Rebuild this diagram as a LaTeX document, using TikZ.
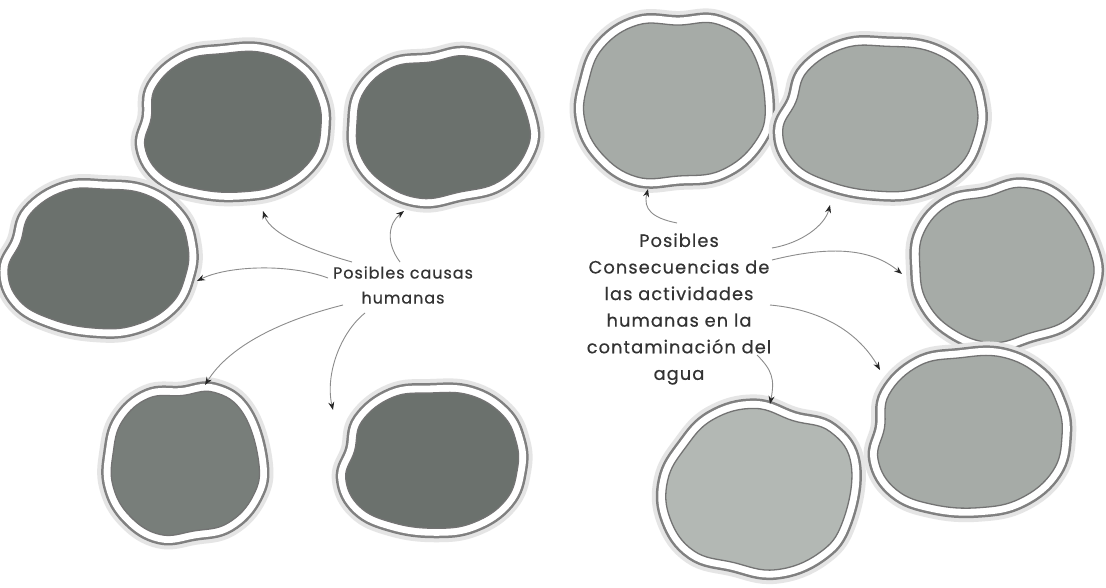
\documentclass[tikz,border=0pt]{standalone}
\usepackage{fontspec}
\setmainfont{Poppins}[FakeBold=0.5, LetterSpace=6]
\usetikzlibrary{arrows.meta}
\definecolor{blobA}{HTML}{6B716D}
\definecolor{blobB}{HTML}{787E7A}
\definecolor{blobC}{HTML}{A6ABA7}
\definecolor{blobD}{HTML}{B3B8B4}
\tikzset{
  conn/.style={draw=black!45, line width=0.9pt, -{Stealth[length=8pt,width=6pt,color=black!85]}},
  halo/.style={draw=black!10, line width=28pt, line join=round},
  rim/.style={draw=black!50, line width=20pt, line join=round},
  ring/.style={draw=white, line width=15pt, line join=round},
  blobfill/.style={draw=black!55, line width=1.3pt},
  lbl/.style={align=center, text=black!80, inner sep=0pt},
}
\def\blobpathone{plot[smooth cycle, tension=0.7] coordinates {(1,0.05) (0.9,0.5) (0.55,0.85) (0.1,0.97) (-0.4,0.93) (-0.8,0.74) (-1,0.35) (-0.93,-0.05) (-0.88,-0.48) (-0.55,-0.85) (-0.12,-0.95) (0.35,-0.96) (0.75,-0.72) (0.95,-0.35)}}
\def\blobpathtwo{plot[smooth cycle, tension=0.7] coordinates {(0.97,0.15) (0.82,0.6) (0.42,0.92) (-0.05,0.95) (-0.5,0.92) (-0.85,0.6) (-1,0.15) (-0.92,-0.3) (-0.72,-0.72) (-0.32,-0.97) (0.12,-0.93) (0.55,-0.9) (0.88,-0.55)}}
\newcommand\myblob[7]{%
  \begin{scope}[shift={(#1,#2)},xscale=#3,yscale=#4,rotate=#5]
    \path[halo] \csname blobpath#7\endcsname;
    \path[rim] \csname blobpath#7\endcsname;
    \path[ring] \csname blobpath#7\endcsname;
    \path[blobfill, fill=#6] \csname blobpath#7\endcsname;
  \end{scope}}
\begin{document}
\begin{tikzpicture}[x=1pt,y=-1pt]
\useasboundingbox[fill=white] (0,0) rectangle (1106,588);
% left group
\myblob{233}{122}{88}{72}{0}{blobA}{one}
\myblob{442}{127}{88}{70}{15}{blobA}{two}
\myblob{100}{258}{88}{72}{-10}{blobA}{one}
\myblob{185}{463}{75}{72}{10}{blobB}{two}
\myblob{433}{460}{85}{70}{-5}{blobA}{one}
% right group
\myblob{675}{100}{92}{80}{5}{blobC}{two}
\myblob{882}{118}{95}{75}{-10}{blobC}{one}
\myblob{1005}{265}{88}{75}{20}{blobC}{two}
\myblob{970}{432}{92}{78}{0}{blobC}{one}
\myblob{760}{490}{92}{80}{-15}{blobD}{two}
% labels
\node[lbl, font=\fontsize{16}{25}\selectfont] (causas) at (403,285) {Posibles causas\\humanas};
\node[lbl, font=\fontsize{17.8}{26.6}\selectfont] (cons) at (679,309) {Posibles\\Consecuencias de\\las actividades\\humanas en la\\contaminación del\\agua};
% arrow anchors
\coordinate (l1s) at (352,262); \coordinate (l1e) at (263,211);
\coordinate (l2s) at (400,262); \coordinate (l2e) at (404,211);
\coordinate (l3s) at (328,278); \coordinate (l3e) at (197,281);
\coordinate (l4s) at (343,305); \coordinate (l4e) at (205,385);
\coordinate (l5s) at (365,313); \coordinate (l5e) at (333,410);
\coordinate (r1s) at (677,223); \coordinate (r1e) at (648,189);
\coordinate (r2s) at (772,248); \coordinate (r2e) at (830,205);
\coordinate (r3s) at (772,260); \coordinate (r3e) at (902,274);
\coordinate (r4s) at (770,305); \coordinate (r4e) at (880,370);
\coordinate (r5s) at (757,355); \coordinate (r5e) at (770,404);
\draw[conn] (l1s) .. controls +(-35,-10) and +(8,25) .. (l1e);
\draw[conn] (l2s) .. controls +(-15,-20) and +(-15,12) .. (l2e);
\draw[conn] (l3s) .. controls +(-40,-15) and +(30,-15) .. (l3e);
\draw[conn] (l4s) .. controls +(-60,15) and +(25,-40) .. (l4e);
\draw[conn] (l5s) .. controls +(-25,20) and +(-8,-35) .. (l5e);
\draw[conn] (r1s) .. controls +(-25,-5) and +(-5,20) .. (r1e);
\draw[conn] (r2s) .. controls +(30,-5) and +(-5,20) .. (r2e);
\draw[conn] (r3s) .. controls +(60,-15) and +(-30,-25) .. (r3e);
\draw[conn] (r4s) .. controls +(55,5) and +(-20,-35) .. (r4e);
\draw[conn] (r5s) .. controls +(15,15) and +(5,-25) .. (r5e);
\end{tikzpicture}
\end{document}
